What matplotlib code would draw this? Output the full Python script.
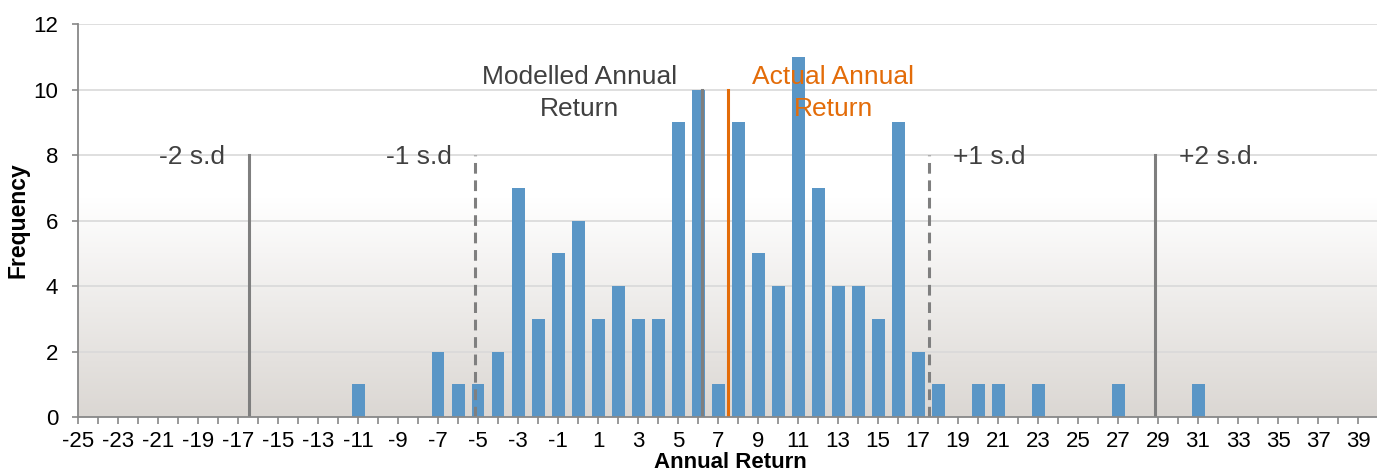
import numpy as np
import matplotlib.pyplot as plt
from matplotlib.colors import LinearSegmentedColormap

plt.rcParams['font.family'] = ['Liberation Sans', 'DejaVu Sans']

# Annual return buckets (%) and how many years fell in each
returns = list(range(-25, 40))
counts = [0, 0, 0, 0, 0, 0, 0, 0, 0, 0, 0, 0, 0, 0,   # -25 .. -12
          1, 0, 0, 0,                                   # -11 .. -8
          2, 1, 1, 2, 7, 3, 5, 6, 3, 4, 3, 3, 9,        # -7 .. 5
          10, 1, 9, 5, 4, 11, 7, 4, 4, 3, 9, 2, 1,      # 6 .. 18
          0, 1, 1, 0, 1, 0, 0, 0, 1, 0, 0, 0, 1,        # 19 .. 31
          0, 0, 0, 0, 0, 0, 0, 0]                       # 32 .. 39

# reference lines: position on the return axis and height
mean_modelled = 6.2
mean_actual = 7.5
sd = 11.33
sd_labels = ['-2 s.d', '-1 s.d', '+1 s.d', '+2 s.d.']
sd_multiples = [-2, -1, 1, 2]
sd_height = 8
mean_height = 10

blue = '#5A96C6'
orange = '#E36C09'
line_gray = '#7F7F7F'
text_gray = '#404040'

fig = plt.figure(figsize=(13.77, 4.75), dpi=100)
ax = fig.add_axes([78 / 1377, 1 - 417 / 475, 1 - 78 / 1377, (417 - 24) / 475])

x0, x1 = -25, 39.95
# background gradient: white at the top, warm grey at the bottom
ys = np.linspace(12, 0, 200)
frac = np.clip((6.7 - ys) / 6.7, 0, 1)
grad = frac[:, None]
cmap = LinearSegmentedColormap.from_list('bg', ['#FFFFFF', '#DBD7D3'])
ax.imshow(grad, extent=(x0, x1, 0, 12), aspect='auto', cmap=cmap,
          vmin=0, vmax=1, zorder=0, interpolation='bilinear')

ax.bar(returns, counts, width=0.65, color=blue, zorder=3)

# standard deviation markers
for m, lab in zip(sd_multiples, sd_labels):
    xpos = mean_modelled + m * sd
    ls = '-' if abs(m) == 2 else (0, (3.5, 2.2))
    ax.plot([xpos, xpos], [0, sd_height], color=line_gray, lw=2.2,
            ls=ls, zorder=4)
    if m < 0:
        ax.text(xpos - 1.2, 7.95, lab, ha='right', va='center',
                fontsize=19, color=text_gray, zorder=5)
    else:
        ax.text(xpos + 1.2, 7.95, lab, ha='left', va='center',
                fontsize=19, color=text_gray, zorder=5)

ax.plot([mean_modelled] * 2, [0, mean_height], color=line_gray, lw=2.2, zorder=4)
ax.plot([mean_actual] * 2, [0, mean_height], color=orange, lw=2.2, zorder=4)
ax.text(0.1, 9.9, 'Modelled Annual\nReturn', ha='center', va='center',
        multialignment='center', linespacing=1.4, fontsize=19,
        color=text_gray, zorder=5)
ax.text(12.75, 9.9, 'Actual Annual\nReturn', ha='center', va='center',
        multialignment='center', linespacing=1.4, fontsize=19,
        color=orange, zorder=5)

ax.set_xlim(x0, x1)
ax.set_ylim(0, 12)
ax.set_yticks(range(0, 13, 2))
ax.set_xticks(returns)
ax.set_xticklabels([str(r) if r % 2 else '' for r in returns])
ax.grid(axis='y', color='#D9D9D9', lw=1.2, zorder=1)
ax.set_axisbelow(False)

for s in ['top', 'right']:
    ax.spines[s].set_visible(False)
for s in ['left', 'bottom']:
    ax.spines[s].set_color('#888888')
    ax.spines[s].set_linewidth(1.3)
    ax.spines[s].set_zorder(6)
ax.tick_params(axis='x', length=5, width=1.2, color='#888888', pad=5,
               labelsize=16)
ax.tick_params(axis='y', length=4.3, width=1.2, color='#888888', pad=10,
               labelsize=16)

ax.set_xlabel('Annual Return', fontsize=16, fontweight='bold')
ax.xaxis.set_label_coords(0.502, -0.088)
ax.set_ylabel('Frequency', fontsize=16.5, fontweight='bold')
ax.yaxis.set_label_coords(-0.046, 0.5)
ax.yaxis.label.set_va('center')

fig.savefig('out.png', dpi=100)
